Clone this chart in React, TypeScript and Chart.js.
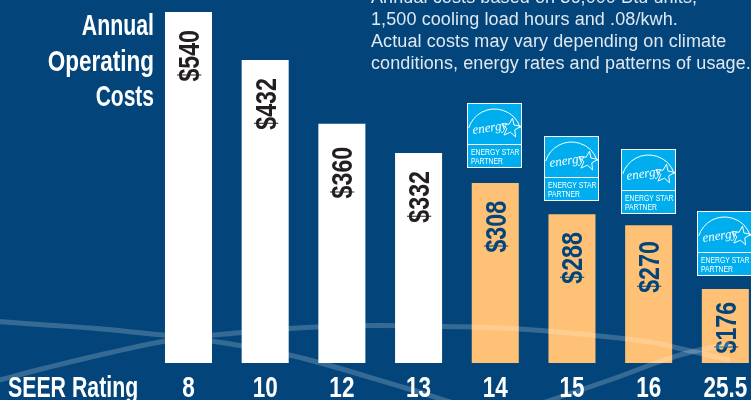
import React, { useEffect, useRef } from "react";
import { Chart, registerables } from "chart.js";

Chart.register(...registerables);

const seerRatings = ["8", "10", "12", "13", "14", "15", "16", "25.5"];
// Printed cost labels.
const costLabels = ["$540", "$432", "$360", "$332", "$308", "$288", "$270", "$176"];
// Bar lengths as drawn, in dollars on the $540 bar's scale (the reference is not proportional to its labels).
const drawnValues = [540, 466, 368, 323, 277, 229, 212, 114];
const isEnergyStar = [false, false, false, false, true, true, true, true];
const titleLines = ["Annual", "Operating", "Costs"];
const xAxisTitle = "SEER Rating";
const noteLines = [
  "Annual costs based on 36,000 Btu units,",
  "1,500 cooling load hours and .08/kwh.",
  "Actual costs may vary depending on climate",
  "conditions, energy rates and patterns of usage.",
];
const swooshA = [[-60, 321], [0, 325], [50, 328], [160, 338], [212, 345], [242, 350], [289, 359], [400, 388], [450, 402]];
const swooshB = [[-60, 382], [0, 368], [70, 353], [140, 340], [212, 333], [289, 327.5], [365, 325.5], [442, 326.5], [518, 328.5], [595, 334], [672, 342], [702, 348], [760, 360]];
const swooshC = [[555, 402], [633, 378], [687, 360], [717, 352], [760, 344]];

const NAVY = "#03457b";
const ORANGE = "#ffc175";
const SANS = '"Liberation Sans", sans-serif';

function squeezed(ctx: CanvasRenderingContext2D, text: string, x: number, y: number, sx: number) {
  ctx.save();
  ctx.translate(x, y);
  ctx.scale(sx, 1);
  ctx.fillText(text, 0, 0);
  ctx.restore();
}

function drawLogo(ctx: CanvasRenderingContext2D, cx: number, barTop: number, rise: number) {
  const w = 55, h = 65;
  const x = Math.round(cx - 28), y = Math.round(barTop - rise);
  ctx.save();
  ctx.fillStyle = "#00aeef";
  ctx.strokeStyle = "#ffffff";
  ctx.lineWidth = 1;
  ctx.fillRect(x, y, w, h);
  ctx.strokeRect(x + 0.5, y + 0.5, w - 1, h - 1);
  ctx.beginPath();
  ctx.moveTo(x + 1, y + 41.5);
  ctx.lineTo(x + w - 1, y + 41.5);
  ctx.stroke();
  ctx.beginPath();
  ctx.arc(x + w / 2, y + 33, 27, Math.PI + 0.3, Math.PI * 2 - 0.3);
  ctx.stroke();
  const sx = x + 44, sy = y + 25, R = 10;
  ctx.beginPath();
  for (let i = 0; i < 10; i++) {
    const r = i % 2 ? R * 0.42 : R;
    const a = -Math.PI / 2 + (i * Math.PI) / 5 + 0.15;
    const px = sx + r * Math.cos(a), py = sy + r * Math.sin(a);
    if (i === 0) ctx.moveTo(px, py);
    else ctx.lineTo(px, py);
  }
  ctx.closePath();
  ctx.stroke();
  ctx.fillStyle = "#ffffff";
  ctx.textBaseline = "alphabetic";
  ctx.textAlign = "left";
  ctx.save();
  ctx.translate(x + 6, y + 31);
  ctx.rotate(-0.14);
  ctx.font = 'italic 13px "Liberation Serif", serif';
  ctx.fillText("energy", 0, 0);
  ctx.restore();
  ctx.font = `9.5px ${SANS}`;
  squeezed(ctx, "ENERGY STAR", x + 4, y + 52, 0.72);
  squeezed(ctx, "PARTNER", x + 4, y + 61, 0.72);
  ctx.restore();
}

const logoRise = [0, 0, 0, 0, 80, 78, 76, 78];
const titleSqueeze = [0.71, 0.75, 0.7];
const labelDrop = [18, 18, 23, 18, 18, 18, 16, 13];

const paintPlugin = {
  id: "paint",
  beforeDraw(chart: any) {
    const { ctx } = chart;
    ctx.save();
    ctx.fillStyle = NAVY;
    ctx.fillRect(0, 0, chart.width, chart.height);
    ctx.restore();
  },
  afterDatasetDraw(chart: any, args: any) {
    if (args.index !== 0) return;
    const { ctx } = chart;
    const meta = chart.getDatasetMeta(0);
    meta.data.forEach((bar: any, i: number) => {
      ctx.save();
      ctx.translate(bar.x + 1.5, bar.y + labelDrop[i]);
      ctx.rotate(-Math.PI / 2);
      ctx.textAlign = "right";
      ctx.textBaseline = "middle";
      ctx.font = `bold 29px ${SANS}`;
      ctx.fillStyle = isEnergyStar[i] ? NAVY : "#231f20";
      squeezed(ctx, costLabels[i], 0, 1, 0.8);
      ctx.restore();
    });
  },
  afterDraw(chart: any) {
    const { ctx } = chart;
    const meta = chart.getDatasetMeta(0);
    meta.data.forEach((bar: any, i: number) => {
      if (isEnergyStar[i]) drawLogo(ctx, bar.x, bar.y, logoRise[i]);
    });
    ctx.save();
    ctx.fillStyle = "#ffffff";
    ctx.textBaseline = "alphabetic";
    ctx.textAlign = "right";
    ctx.font = `bold 30px ${SANS}`;
    titleLines.forEach((line, i) => squeezed(ctx, line, 154, 35 + i * 35.5, titleSqueeze[i]));
    ctx.textAlign = "left";
    squeezed(ctx, xAxisTitle, 8, 397, 0.71);
    ctx.textAlign = "center";
    const xScale = chart.scales.x;
    xScale.getLabels().forEach((label: string, i: number) => {
      squeezed(ctx, label, xScale.getPixelForTick(i), 397, 0.75);
    });
    ctx.textAlign = "left";
    ctx.fillStyle = "#dfe8f0";
    ctx.font = `18px ${SANS}`;
    (ctx as any).letterSpacing = "0.1px";
    noteLines.forEach((line, i) => ctx.fillText(line, 371, 3 + i * 22));
    ctx.restore();
  },
};

const fixBounds = (lo: number, hi: number) => (s: any) => {
  s.min = lo;
  s.max = hi;
};

export default function App() {
  const ref = useRef<HTMLCanvasElement>(null);
  useEffect(() => {
    const swoosh = (pts: number[][]) => ({
      type: "line" as const,
      data: pts.map(([x, y]) => ({ x, y })),
      xAxisID: "px",
      yAxisID: "py",
      borderColor: "rgba(255,255,255,0.2)",
      borderWidth: 5,
      pointRadius: 0,
      tension: 0.4,
      clip: false as any,
      order: 0,
    });
    const chart = new Chart(ref.current as HTMLCanvasElement, {
      type: "bar",
      data: {
        labels: seerRatings,
        datasets: [
          {
            type: "bar" as const,
            data: drawnValues,
            backgroundColor: isEnergyStar.map((e) => (e ? ORANGE : "#ffffff")),
            barPercentage: 0.613,
            categoryPercentage: 1,
            grouped: false,
            order: 1,
          },
          swoosh(swooshA),
          swoosh(swooshB),
          swoosh(swooshC),
        ] as any,
      },
      options: {
        animation: false,
        responsive: false,
        layout: { padding: { left: 150.15, right: 6.3, top: 12, bottom: 0 } },
        plugins: { legend: { display: false }, tooltip: { enabled: false } },
        scales: {
          x: {
            type: "category",
            offset: true,
            border: { display: false },
            grid: { display: false },
            afterFit: (s: any) => { s.height = 37; },
            ticks: { display: false, autoSkip: false },
          },
          y: { display: false, min: 0, max: 540 },
          px: { type: "linear", display: false, afterBuildTicks: fixBounds(150.15, 763.7) },
          py: { type: "linear", display: false, reverse: true, afterBuildTicks: fixBounds(12, 363) },
        },
      } as any,
      plugins: [paintPlugin],
    });
    return () => chart.destroy();
  }, []);
  return (
    <div style={{ position: "fixed", left: 0, top: 0, width: 751, height: 400, overflow: "hidden" }}>
      <canvas ref={ref} width={770} height={400} style={{ display: "block" }} />
    </div>
  );
}
